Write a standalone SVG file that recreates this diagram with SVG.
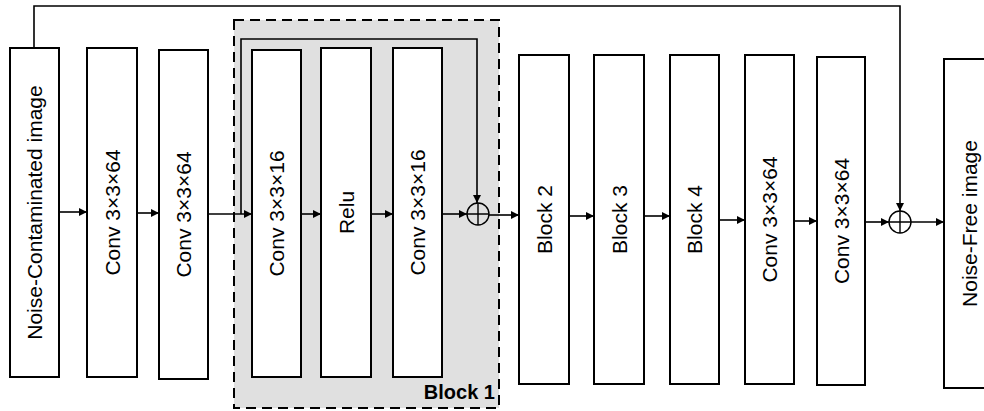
<svg xmlns="http://www.w3.org/2000/svg" width="984" height="411" viewBox="0 0 984 411">
<defs>
<marker id="ah" viewBox="0 0 10 10" refX="10" refY="5" markerWidth="10" markerHeight="8" markerUnits="userSpaceOnUse" orient="auto">
<path d="M0,0 L10,5 L0,10 z" fill="#000"/>
</marker>
<style>
.box{fill:#fff;stroke:#000;stroke-width:2}
.lbl{font-family:"Liberation Sans",Arial,sans-serif;font-size:21px;fill:#000;text-anchor:middle}
.con{fill:none;stroke:#000;stroke-width:1.6}
.arr{fill:none;stroke:#000;stroke-width:1.6;marker-end:url(#ah)}
.sum{fill:none;stroke:#000;stroke-width:1.4}
</style>
</defs>
<rect width="984" height="411" fill="#fff"/>
<g id="block1">
<rect x="234" y="20" width="265" height="388" fill="#e0e0e0" stroke="#000" stroke-width="2" stroke-dasharray="10,6"/>
<text x="495" y="399" style="font-family:'Liberation Sans',Arial,sans-serif;font-size:20px;font-weight:bold;text-anchor:end">Block 1</text>
</g>
<g id="n1"><rect class="box" x="10" y="48" width="49" height="329"/><text class="lbl" transform="translate(42,212.5) rotate(-90)">Noise-Contaminated image</text></g>
<g id="n2"><rect class="box" x="87" y="48" width="50" height="329"/><text class="lbl" transform="translate(119.5,212.5) rotate(-90)">Conv 3×3×64</text></g>
<g id="n3"><rect class="box" x="159" y="50" width="49" height="329"/><text class="lbl" transform="translate(191,214.5) rotate(-90)">Conv 3×3×64</text></g>
<g id="b1conv1"><rect class="box" x="252" y="50" width="49" height="327"/><text class="lbl" transform="translate(284,213.5) rotate(-90)">Conv 3×3×16</text></g>
<g id="b1relu"><rect class="box" x="321" y="48" width="50" height="329"/><text class="lbl" transform="translate(353.5,212.5) rotate(-90)">Relu</text></g>
<g id="b1conv2"><rect class="box" x="393" y="48" width="49" height="329"/><text class="lbl" transform="translate(425,212.5) rotate(-90)">Conv 3×3×16</text></g>
<g id="sum1"><circle class="sum" cx="478" cy="214" r="11"/><path class="sum" d="M467,214 H489 M478,203 V225"/></g>
<g id="n4"><rect class="box" x="519" y="55" width="50" height="329"/><text class="lbl" transform="translate(551.5,219.5) rotate(-90)">Block 2</text></g>
<g id="n5"><rect class="box" x="594" y="55" width="50" height="329"/><text class="lbl" transform="translate(626.5,219.5) rotate(-90)">Block 3</text></g>
<g id="n6"><rect class="box" x="670" y="55" width="49" height="329"/><text class="lbl" transform="translate(702,219.5) rotate(-90)">Block 4</text></g>
<g id="n7"><rect class="box" x="745" y="55" width="49" height="329"/><text class="lbl" transform="translate(777,219.5) rotate(-90)">Conv 3×3×64</text></g>
<g id="n8"><rect class="box" x="817" y="57" width="48" height="328"/><text class="lbl" transform="translate(848.5,221) rotate(-90)">Conv 3×3×64</text></g>
<g id="sum2"><circle class="sum" cx="900" cy="222" r="11"/><path class="sum" d="M889,222 H911 M900,211 V233"/></g>
<g id="n9"><rect class="box" x="944" y="59" width="50" height="329"/><text class="lbl" transform="translate(976.5,223.5) rotate(-90)">Noise-Free image</text></g>
<g id="connectors">
<path class="arr" d="M59,212 H87"/>
<path class="arr" d="M137,213 H159"/>
<path class="arr" d="M208,214 H252"/>
<path class="arr" d="M301,214 H321"/>
<path class="arr" d="M371,214 H393"/>
<path class="arr" d="M442,214 H467"/>
<path class="arr" d="M241,214 V39 H477 V203"/>
<path class="arr" d="M489,215 H519"/>
<path class="arr" d="M569,216 H594"/>
<path class="arr" d="M644,216 H670"/>
<path class="arr" d="M719,220 H745"/>
<path class="arr" d="M794,221 H817"/>
<path class="arr" d="M865,222 H889"/>
<path class="arr" d="M911,222 H944"/>
<path class="arr" d="M34,48 V6 H900 V211"/>
</g>
</svg>
